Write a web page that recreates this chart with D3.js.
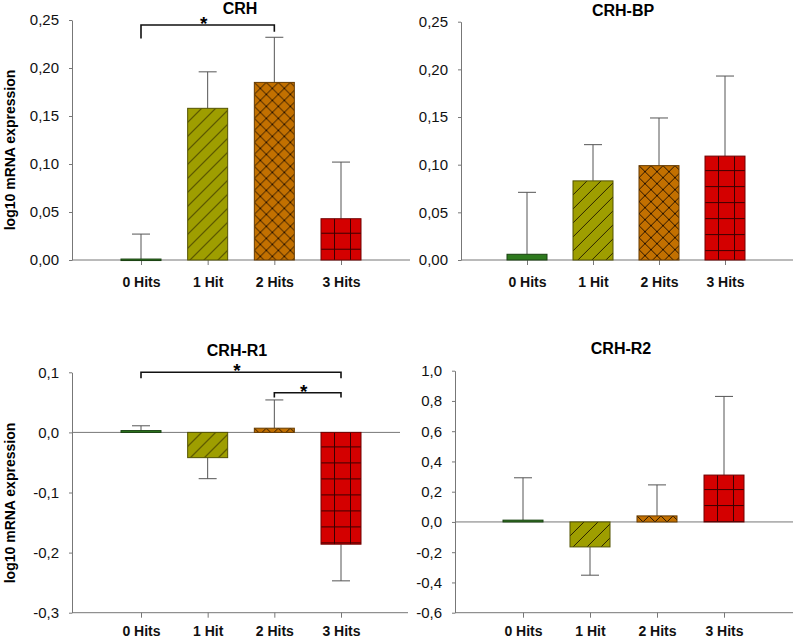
<!DOCTYPE html>
<html>
<head>
<meta charset="utf-8">
<script src="https://cdn.jsdelivr.net/npm/d3@7"></script>
<style>
body { margin: 0; background: #fff; }
text { font-family: "Liberation Sans", Arial, sans-serif; }
</style>
</head>
<body>
<div class="vis"></div>
<script>
const categories = ['0 Hits', '1 Hit', '2 Hits', '3 Hits'];
const barColors = ['#2e7a1e', '#9e9e00', '#c27000', '#d40000'];

// group means and standard errors (log10 mRNA expression)
const crhMean = [0.001, 0.158, 0.185, 0.043];
const crhSE = [0.026, 0.038, 0.047, 0.059];
const crhBpMean = [0.006, 0.083, 0.099, 0.109];
const crhBpSE = [0.065, 0.038, 0.050, 0.084];
const crhR1Mean = [0.003, -0.042, 0.007, -0.186];
const crhR1SE = [0.008, 0.035, 0.047, 0.061];
const crhR2Mean = [0.012, -0.165, 0.04, 0.31];
const crhR2SE = [0.28, 0.187, 0.205, 0.52];

const crhTicks = [0, 0.05, 0.10, 0.15, 0.20, 0.25];
const crhBpTicks = [0, 0.05, 0.10, 0.15, 0.20, 0.25];
const crhR1Ticks = [-0.3, -0.2, -0.1, 0, 0.1];
const crhR2Ticks = [-0.6, -0.4, -0.2, 0, 0.2, 0.4, 0.6, 0.8, 1.0];

// significant pairs (category indices)
const crhSig = [[0, 2]];
const crhR1Sig = [[0, 3], [2, 3]];

const panels = [
    {title: 'CRH', mean: crhMean, se: crhSE, ticks: crhTicks, dec: 2, sig: crhSig, sigY: [0.2448], sigDrop: [[0.014, 0.007]],
     x0: 72, x1: 410, cx: [141, 341], yTop: 20, yBot: 260, titleX: 240, titleY: 14, ylab: true, labY: 150, pad: 12},
    {title: 'CRH-BP', mean: crhBpMean, se: crhBpSE, ticks: crhBpTicks, dec: 2, sig: [], sigY: [], sigDrop: [],
     x0: 461, x1: 793, cx: [527, 725], yTop: 21.7, yBot: 260, titleX: 623, titleY: 16, ylab: false, pad: 12},
    {title: 'CRH-R1', mean: crhR1Mean, se: crhR1SE, ticks: crhR1Ticks, dec: 1, sig: crhR1Sig, sigY: [0.1, 0.066], sigDrop: [[0.01, 0.01], [0.008, 0.008]],
     x0: 72, x1: 408, zeroEnd: 400, cx: [141, 341], yTop: 372.3, yBot: 612.7, titleX: 237, titleY: 356, ylab: true, labY: 503, pad: 8},
    {title: 'CRH-R2', mean: crhR2Mean, se: crhR2SE, ticks: crhR2Ticks, dec: 1, sig: [], sigY: [], sigDrop: [],
     x0: 455, x1: 793, zeroEnd: 793, cx: [523, 724], yTop: 370.7, yBot: 612.7, titleX: 621, titleY: 354, ylab: false, pad: 8}
];

const svg = d3.select('.vis').append('svg')
    .attr('width', 793)
    .attr('height', 640);
const defs = svg.append('defs');
const axisColor = '#777';
const barW = 40;

// hatch patterns anchored to each bar
function makePattern(id, kind, color, bx, by) {
    if (kind === 0) return null;
    const p = defs.append('pattern').attr('id', id).attr('patternUnits', 'userSpaceOnUse');
    let s;
    if (kind === 1) {
        s = 14;
        p.attr('x', bx).attr('y', by).attr('width', s).attr('height', s);
        p.append('rect').attr('width', s).attr('height', s).attr('fill', color);
        p.append('path').attr('d', `M0,${s}L${s},0M-2,2L2,-2M${s - 2},${s + 2}L${s + 2},${s - 2}`)
            .attr('stroke', '#2a2200').attr('stroke-width', 1);
    } else if (kind === 2) {
        s = 12;
        p.attr('x', bx).attr('y', by).attr('width', s).attr('height', s);
        p.append('rect').attr('width', s).attr('height', s).attr('fill', color);
        p.append('path').attr('d', `M0,0L${s},${s}M${s},0L0,${s}`)
            .attr('stroke', '#2a1500').attr('stroke-width', 1);
    } else {
        s = 16;
        p.attr('x', bx + 13 - s).attr('y', by + 14 - s).attr('width', s).attr('height', s);
        p.append('rect').attr('width', s).attr('height', s).attr('fill', color);
        p.append('path').attr('d', `M0,0.5H${s}M0.5,0V${s}`)
            .attr('stroke', '#3a0000').attr('stroke-width', 1);
    }
    return `url(#${id})`;
}

panels.forEach((pn, pi) => {
    const g = svg.append('g');
    const dom = d3.extent(pn.ticks);
    const y = d3.scaleLinear().domain(dom).range([pn.yBot, pn.yTop]);
    const x = d3.scalePoint().domain(categories).range(pn.cx);
    const fmt = (d) => d3.format(`.${pn.dec}f`)(d).replace('.', ',').replace('−', '-');

    // y axis
    const ya = g.append('g')
        .attr('transform', `translate(${pn.x0},0)`)
        .call(d3.axisLeft(y).tickValues(pn.ticks).tickFormat(fmt).tickSize(3).tickSizeOuter(0).tickPadding(10));
    ya.select('.domain').attr('stroke', axisColor);
    ya.selectAll('.tick line').attr('stroke', axisColor);
    ya.selectAll('.tick text').attr('font-size', 15).attr('fill', '#111');

    // bottom axis
    g.append('line')
        .attr('x1', pn.x0).attr('x2', pn.x1)
        .attr('y1', pn.yBot).attr('y2', pn.yBot)
        .attr('stroke', axisColor);
    const xa = g.append('g')
        .attr('transform', `translate(0,${pn.yBot})`)
        .call(d3.axisBottom(x).tickSize(5).tickSizeOuter(0).tickPadding(pn.pad));
    xa.select('.domain').remove();
    xa.selectAll('.tick line').attr('stroke', axisColor);
    xa.selectAll('.tick text').attr('font-size', 14).attr('font-weight', 'bold').attr('fill', '#111');

    // zero line
    if (dom[0] < 0) {
        g.append('line')
            .attr('x1', pn.x0).attr('x2', pn.zeroEnd)
            .attr('y1', y(0)).attr('y2', y(0))
            .attr('stroke', axisColor);
    }

    // error bars (one-sided, away from zero)
    categories.forEach((c, i) => {
        const m = pn.mean[i];
        const e = m + (m >= 0 ? 1 : -1) * pn.se[i];
        g.append('line')
            .attr('x1', x(c)).attr('x2', x(c))
            .attr('y1', y(m)).attr('y2', y(e))
            .attr('stroke', '#555');
        g.append('line')
            .attr('x1', x(c) - 9).attr('x2', x(c) + 9)
            .attr('y1', y(e)).attr('y2', y(e))
            .attr('stroke', '#555');
    });

    // bars
    categories.forEach((c, i) => {
        const m = pn.mean[i];
        const top = Math.min(y(m), y(0));
        const h = Math.max(Math.abs(y(m) - y(0)), 1.5);
        const bx = x(c) - barW / 2;
        const fill = makePattern(`pat${pi}_${i}`, i, barColors[i], bx, top) || barColors[i];
        g.append('rect')
            .attr('x', bx).attr('y', top)
            .attr('width', barW).attr('height', h)
            .attr('fill', fill)
            .attr('stroke', d3.color(barColors[i]).darker(1.8))
            .attr('stroke-width', 1);
    });

    // significance brackets
    pn.sig.forEach((s, k) => {
        const xa1 = x(categories[s[0]]), xa2 = x(categories[s[1]]);
        const yb = y(pn.sigY[k]);
        const d1 = y(pn.sigY[k] - pn.sigDrop[k][0]);
        const d2 = y(pn.sigY[k] - pn.sigDrop[k][1]);
        g.append('path')
            .attr('d', `M${xa1},${d1}V${yb}H${xa2}V${d2}`)
            .attr('fill', 'none')
            .attr('stroke', '#111')
            .attr('stroke-width', 1.6);
        g.append('text')
            .attr('x', (xa1 + xa2) / 2 - 4)
            .attr('y', yb + 5)
            .attr('text-anchor', 'middle')
            .attr('font-size', 19)
            .attr('font-weight', 'bold')
            .text('*');
    });

    // title
    g.append('text')
        .attr('x', pn.titleX).attr('y', pn.titleY)
        .attr('text-anchor', 'middle')
        .attr('font-size', 16)
        .attr('font-weight', 'bold')
        .text(pn.title);

    // y label
    if (pn.ylab) {
        g.append('text')
            .attr('transform', `translate(15,${pn.labY}) rotate(-90)`)
            .attr('text-anchor', 'middle')
            .attr('font-size', 14)
            .attr('font-weight', 'bold')
            .text('log10 mRNA expression');
    }
});
</script>
</body>
</html>
